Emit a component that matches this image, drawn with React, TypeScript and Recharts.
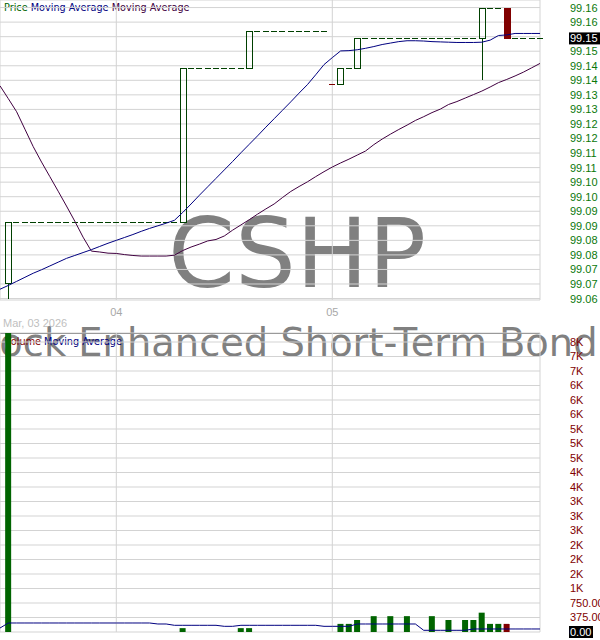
import React from 'react';
import { ComposedChart, Bar, Line, XAxis, YAxis, CartesianGrid, Cell } from 'recharts';

// x positions are session slots; slot -1 is the left edge, 64 the right edge
const firstSlot = -1;
const lastSlot = 64;

const monthTickSlots = [-1, 13, 39];
const monthTickLabels = ['', '04', '05'];

// sessions that printed a trade
const tradeSlots = [0, 21, 28, 29, 39, 40, 41, 42, 44, 46, 48, 51, 53, 55, 56, 57, 58, 59, 60];
const tradeOpen = [99.0653, 99.0864, 99.1391, 99.1391, 99.1337, 99.1337, 99.1391, 99.1391, 99.1494, 99.1494, 99.1494, 99.1494, 99.1494, 99.1494, 99.1494, 99.1494, 99.16, 99.16, 99.16];
const tradeHigh = [99.0864, 99.1391, 99.1391, 99.1518, 99.1337, 99.1391, 99.1391, 99.1494, 99.1494, 99.1494, 99.1494, 99.1494, 99.1494, 99.1494, 99.1494, 99.16, 99.16, 99.16, 99.16];
const tradeLow = [99.06, 99.0864, 99.1391, 99.1391, 99.1337, 99.1337, 99.1391, 99.1391, 99.1494, 99.1494, 99.1494, 99.1494, 99.1494, 99.1494, 99.1494, 99.1351, 99.16, 99.16, 99.1494];
const tradeClose = [99.0864, 99.1391, 99.1391, 99.1518, 99.1337, 99.1391, 99.1391, 99.1494, 99.1494, 99.1494, 99.1494, 99.1494, 99.1494, 99.1494, 99.1494, 99.16, 99.16, 99.16, 99.1494];
const tradeVolume = [7740, 100, 100, 100, 0, 210, 210, 310, 410, 410, 410, 410, 310, 310, 310, 500, 210, 210, 210];

// moving averages, one value per slot from -1 to 64
const maFast = [
  99.0632, 99.0645, 99.0659, 99.0673, 99.0687, 99.0699, 99.0712, 99.0725, 99.0738, 99.0748,
  99.0758, 99.0768, 99.0779, 99.079, 99.08, 99.081, 99.082, 99.0831, 99.0841, 99.085,
  99.0859, 99.0869, 99.0896, 99.0925, 99.0955, 99.0984, 99.1013, 99.1042, 99.1071, 99.1101,
  99.113, 99.1159, 99.1189, 99.1218, 99.1247, 99.1276, 99.1306, 99.1335, 99.1369, 99.1404,
  99.1428, 99.1451, 99.1452, 99.1455, 99.146, 99.1466, 99.1473, 99.1478, 99.1483, 99.1486,
  99.1486, 99.1485, 99.1483, 99.1482, 99.1481, 99.148, 99.148, 99.148, 99.1481, 99.1488,
  99.1504, 99.1506, 99.1511, 99.1511, 99.1511, 99.1511,
];
const maSlow = [
  99.1331, 99.1287, 99.1242, 99.1182, 99.1122, 99.1069, 99.1019, 99.0969, 99.0918, 99.0866,
  99.0811, 99.0763, 99.076, 99.0756, 99.0755, 99.0751, 99.0748, 99.0746, 99.0746, 99.0746,
  99.0746, 99.0749, 99.0765, 99.0777, 99.0787, 99.0798, 99.0803, 99.0815, 99.0835, 99.0853,
  99.0871, 99.089, 99.0908, 99.0925, 99.0947, 99.0968, 99.0985, 99.1001, 99.1019, 99.1036,
  99.1052, 99.1066, 99.1079, 99.1093, 99.1107, 99.1129, 99.1148, 99.1165, 99.1181, 99.1196,
  99.1212, 99.1225, 99.1239, 99.1251, 99.1267, 99.1277, 99.1289, 99.1301, 99.1313, 99.1327,
  99.1342, 99.1353, 99.1365, 99.1378, 99.1393, 99.1408,
];
const volumeMa = [
  103, 233, 233, 233, 233, 233, 233, 233, 233, 233,
  233, 233, 233, 233, 233, 233, 233, 233, 233, 207,
  207, 173, 173, 173, 173, 173, 173, 147, 147, 173,
  173, 173, 173, 173, 173, 173, 173, 173, 173, 147,
  147, 147, 147, 207, 207, 207, 207, 207, 207, 207,
  207, 44, 44, 44, 44, 44, 44, 78, 78, 78,
  78, 78, 78, 78, 78, 78,
];

const priceTicks = [99.06, 99.065, 99.07, 99.075, 99.08, 99.085, 99.09, 99.095, 99.1, 99.105, 99.11, 99.115, 99.12, 99.125, 99.13, 99.135, 99.14, 99.145, 99.15, 99.155, 99.16];
const priceTickLabels = ['99.06', '99.07', '99.07', '99.08', '99.08', '99.09', '99.09', '99.10', '99.10', '99.11', '99.11', '99.12', '99.12', '99.13', '99.13', '99.14', '99.14', '99.15', '99.15', '99.16', '99.16'];
const volumeTicks = [0, 375, 750, 1125, 1500, 1875, 2250, 2625, 3000, 3375, 3750, 4125, 4500, 4875, 5250, 5625, 6000, 6375, 6750, 7125, 7500];
const volumeTickLabels = ['0.00', '375.00', '750.00', '1K', '2K', '2K', '2K', '3K', '3K', '3K', '4K', '4K', '5K', '5K', '5K', '6K', '6K', '6K', '7K', '7K', '8K'];

const PRICE_DOMAIN = [99.0595, 99.1626];
const VOLUME_DOMAIN = [0, 7733];
const PRICE_PLOT_H = 300;

const CANDLE_UP = '#004000';
const CANDLE_DOWN = '#800000';
const VOL_UP = '#006400';
const VOL_DOWN = '#800000';
const GRID = '#d3d3d3';
const FONT = '"Liberation Sans", Arial, sans-serif';
const SMALL_FONT = '"DejaVu Sans", Verdana, sans-serif';
const MARK_FONT = '"DejaVu Sans", sans-serif';

const rows: any[] = [];
let prevClose: number | null = null;
for (let s = firstSlot; s <= lastSlot; s++) {
  const i = s - firstSlot;
  const row: any = { slot: s, maFast: maFast[i], maSlow: maSlow[i], volMa: volumeMa[i], volume: null };
  const t = tradeSlots.indexOf(s);
  if (t >= 0) {
    const o = tradeOpen[t];
    const c = tradeClose[t];
    row.open = o;
    row.close = c;
    row.high = tradeHigh[t];
    row.low = tradeLow[t];
    row.down = c < o || (c === o && prevClose !== null && c < prevClose);
    row.volume = tradeVolume[t];
    prevClose = c;
  } else if (prevClose !== null) {
    // no trade: flat mark at the last close
    row.open = row.close = row.high = row.low = prevClose;
    row.down = false;
  }
  if (row.high !== undefined) row.range = [row.low, row.high];
  rows.push(row);
}

const lastRow = rows[rows.length - 1];
const lastClose: number = lastRow.close;
const lastVolume: number = lastRow.volume ?? 0;

const Candle = (props: any) => {
  const { x, y, width, height, payload } = props;
  if (x == null || !payload || payload.high === undefined) return null;
  const { open, close, high, low, down } = payload;
  const span = high - low;
  const toY = (v: number) => (span > 0 ? y + ((high - v) / span) * height : y);
  const color = down ? CANDLE_DOWN : CANDLE_UP;
  const left = Math.round(x);
  const cx = left + Math.round(width / 2);
  const top = Math.round(toY(Math.max(open, close)));
  const bot = Math.round(toY(Math.min(open, close)));
  const hi = Math.round(toY(high));
  const lo = Math.round(toY(low));
  return (
    <g shapeRendering="crispEdges">
      {hi < top && <line x1={cx} x2={cx} y1={hi} y2={top} stroke={color} />}
      {lo > bot && <line x1={cx} x2={cx} y1={bot} y2={lo} stroke={color} />}
      {bot - top < 1 ? (
        <line x1={left} x2={left + width} y1={top + 0.5} y2={top + 0.5} stroke={color} />
      ) : (
        <rect x={left + 0.5} y={top + 0.5} width={width} height={bot - top} fill={down ? color : 'none'} stroke={color} />
      )}
    </g>
  );
};

const PriceTick = (props: any) => {
  const { x, y, payload } = props;
  const v = payload.value;
  const label = priceTickLabels[priceTicks.indexOf(v)] ?? '';
  if (Math.abs(v - lastClose) < 0.0025) {
    const yy = y + ((v - lastClose) / (PRICE_DOMAIN[1] - PRICE_DOMAIN[0])) * PRICE_PLOT_H;
    return (
      <g>
        <rect x={x + 29} y={yy - 6} width={31} height={12} fill="#000" />
        <text x={x + 30} y={yy} dy="0.36em" fill="#fff" fontSize={11} fontFamily={FONT}>{lastClose.toFixed(2)}</text>
      </g>
    );
  }
  return <text x={x + 30} y={y} dy="0.36em" fill="#0a780a" fontSize={11} fontFamily={FONT}>{label}</text>;
};

const VolumeTick = (props: any) => {
  const { x, y, payload } = props;
  const v = payload.value;
  const label = volumeTickLabels[volumeTicks.indexOf(v)] ?? '';
  if (v === lastVolume) {
    return (
      <g>
        <rect x={x + 29} y={y - 6} width={24} height={12} fill="#000" />
        <text x={x + 30} y={y} dy="0.36em" fill="#fff" fontSize={11} fontFamily={FONT}>{lastVolume.toFixed(2)}</text>
      </g>
    );
  }
  return <text x={x + 30} y={y} dy="0.36em" fill="#800000" fontSize={11} fontFamily={FONT}>{label}</text>;
};

export default function App() {
  return (
    <div style={{ position: 'absolute', left: 0, top: 0, width: 600, height: 640, background: '#fff', overflow: 'hidden', fontFamily: FONT }}>
      <svg width={600} height={640} style={{ position: 'absolute', left: 0, top: 0 }}>
        <text x={297} y={287} textAnchor="middle" fontSize={96} fontFamily={MARK_FONT} fill="#808080">CSHP</text>
        <text x={-129.5} y={356} fontSize={38.4} fontFamily={MARK_FONT} fill="#808080">BlackRock Enhanced Short-Term Bond ETF</text>
        <line x1={0} x2={540} y1={333.5} y2={333.5} stroke="#606060" />
        <text x={4} y={10.5} fontSize={9.7} fontFamily={SMALL_FONT}>
          <tspan fill="#006400">Price </tspan>
          <tspan fill="#000080">Moving Average </tspan>
          <tspan fill="#400040">Moving Average</tspan>
        </text>
        <text x={5} y={344.5} fontSize={9.7} fontFamily={SMALL_FONT}>
          <tspan fill="#800000">Volume </tspan>
          <tspan fill="#000080">Moving Average</tspan>
        </text>
        <text x={3} y={327} fontSize={11} fontFamily={FONT} fill="#c0c0c0">Mar, 03 2026</text>
      </svg>

      <div style={{ position: 'absolute', left: 0, top: 0 }}>
        <ComposedChart width={600} height={320} data={rows} margin={{ top: 0, right: 0, left: 0, bottom: 0 }}>
          <CartesianGrid stroke={GRID} />
          <XAxis
            dataKey="slot"
            type="number"
            domain={[firstSlot, lastSlot]}
            ticks={monthTickSlots}
            interval={0}
            tickFormatter={(v: number) => monthTickLabels[monthTickSlots.indexOf(v)] ?? ''}
            axisLine={false}
            tickLine={false}
            tickSize={0}
            tickMargin={8}
            height={20}
            tick={{ fill: '#a8a8a8', fontSize: 11, fontFamily: FONT }}
          />
          <YAxis
            orientation="right"
            width={60}
            domain={PRICE_DOMAIN}
            ticks={priceTicks}
            interval={0}
            allowDataOverflow
            axisLine={false}
            tickLine={false}
            tickSize={0}
            tickMargin={0}
            tick={(p: any) => <PriceTick {...p} />}
          />
          <Bar dataKey="range" barSize={6} shape={Candle} isAnimationActive={false} />
          <Line dataKey="maSlow" type="linear" stroke="#400040" strokeWidth={1} dot={false} activeDot={false} isAnimationActive={false} />
          <Line dataKey="maFast" type="linear" stroke="#000080" strokeWidth={1} dot={false} activeDot={false} isAnimationActive={false} />
        </ComposedChart>
      </div>

      <div style={{ position: 'absolute', left: 0, top: 320 }}>
        <ComposedChart width={600} height={320} data={rows} margin={{ top: 13, right: 0, left: 0, bottom: 8 }}>
          <CartesianGrid stroke={GRID} />
          <XAxis dataKey="slot" type="number" domain={[firstSlot, lastSlot]} ticks={monthTickSlots} interval={0} hide />
          <YAxis
            orientation="right"
            width={60}
            domain={VOLUME_DOMAIN}
            ticks={volumeTicks}
            interval={0}
            allowDataOverflow
            axisLine={false}
            tickLine={false}
            tickSize={0}
            tickMargin={0}
            tick={(p: any) => <VolumeTick {...p} />}
          />
          <Bar dataKey="volume" barSize={6} isAnimationActive={false}>
            {rows.map((r) => (
              <Cell key={r.slot} fill={r.down ? VOL_DOWN : VOL_UP} />
            ))}
          </Bar>
          <Line dataKey="volMa" type="linear" stroke="#000080" strokeWidth={1} dot={false} activeDot={false} isAnimationActive={false} />
        </ComposedChart>
      </div>
    </div>
  );
}
